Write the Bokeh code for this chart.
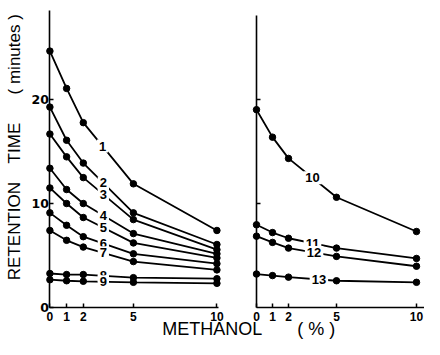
import numpy as np
from bokeh.plotting import figure
from bokeh.models import Range1d, LinearAxis, FixedTicker, Label
from bokeh.core.properties import value
from bokeh.embed import file_html
from bokeh.resources import INLINE

# ---- data (retention time in minutes vs methanol %) ----
methanol = [0, 1, 2, 5, 10]
x_tick_labels = ["0", "1", "2", "5", "10"]
y_ticks = [0, 10, 20]

rt_1 = [24.7, 21.1, 17.8, 11.9, 7.4]
rt_2 = [19.3, 16.1, 13.9, 9.1, 6.05]
rt_3 = [16.7, 14.5, 12.5, 8.45, 5.55]
rt_4 = [13.4, 11.35, 10.0, 7.1, 5.15]
rt_5 = [11.5, 10.0, 8.65, 6.2, 4.75]
rt_6 = [9.1, 7.9, 6.8, 5.15, 4.2]
rt_7 = [7.4, 6.45, 5.8, 4.4, 3.6]
rt_8 = [3.25, 3.15, 3.15, 2.85, 2.75]
rt_9 = [2.65, 2.55, 2.5, 2.4, 2.3]

rt_10 = [19.05, 16.4, 14.35, 10.6, 7.3]
rt_11 = [7.95, 7.2, 6.65, 5.7, 4.7]
rt_12 = [6.85, 6.25, 5.7, 4.9, 3.95]
rt_13 = [3.2, 3.05, 2.9, 2.55, 2.4]

left_names = ["1", "2", "3", "4", "5", "6", "7", "8", "9"]
left_series = [rt_1, rt_2, rt_3, rt_4, rt_5, rt_6, rt_7, rt_8, rt_9]
right_names = ["10", "11", "12", "13"]
right_series = [rt_10, rt_11, rt_12, rt_13]

# where along the methanol axis each compound number sits on its curve
left_label_at = [3.15, 3.2, 3.2, 3.2, 3.2, 3.2, 3.2, 3.2, 3.2]
right_label_at = [3.5, 3.5, 3.6, 3.9]

FONT = "Liberation Sans"

p = figure(width=424, height=339, output_backend="svg", toolbar_location=None,
           x_range=Range1d(-2.958, 22.43), y_range=Range1d(-3.115, 29.58),
           x_axis_location=None, y_axis_location=None, min_border=0,
           outline_line_color=None)
p.extra_x_ranges = {"right": Range1d(-16.0, 10.5)}
for g in p.grid:
    g.visible = False


def style_axis(ax, show_labels=True, font=FONT, size="12px"):
    ax.axis_line_color = "black"
    ax.axis_line_width = 1.6
    ax.major_tick_line_color = "black"
    ax.major_tick_line_width = 1.5
    ax.major_tick_in = 4
    ax.major_tick_out = 0
    ax.minor_tick_line_color = None
    ax.major_label_text_font = font
    ax.major_label_text_font_style = "bold"
    ax.major_label_text_font_size = size
    ax.major_label_text_color = "black" if show_labels else None


xlab = {t: s for t, s in zip(methanol, x_tick_labels)}

ax_l = LinearAxis(fixed_location=0, bounds=(0, 10.1), ticker=FixedTicker(ticks=methanol),
                  major_label_overrides=xlab, major_label_standoff=5)
style_axis(ax_l)
p.add_layout(ax_l, "below")

ax_r = LinearAxis(x_range_name="right", fixed_location=0, bounds=(0, 10.5),
                  ticker=FixedTicker(ticks=methanol), major_label_overrides=xlab,
                  major_label_standoff=5)
style_axis(ax_r)
p.add_layout(ax_r, "below")

ay_l = LinearAxis(fixed_location=0, bounds=(0, 28.6), ticker=FixedTicker(ticks=y_ticks),
                  major_label_standoff=1)
style_axis(ay_l, font="DejaVu Sans", size="12.5px")
p.add_layout(ay_l, "left")

ay_r = LinearAxis(x_range_name="right", fixed_location=0, bounds=(0, 28.1),
                  ticker=FixedTicker(ticks=[10, 20]))
style_axis(ay_r, show_labels=False)
p.add_layout(ay_r, "left")

# curves
for ys in left_series:
    p.line(methanol, ys, line_color="black", line_width=1.8)
for ys in right_series:
    p.line(methanol, ys, line_color="black", line_width=1.8, x_range_name="right")

# compound numbers on the curves
lx = left_label_at
ly = [float(np.interp(a, methanol, ys)) for a, ys in zip(lx, left_series)]
p.text(x=lx, y=ly, text=left_names, text_font=value(FONT), text_font_style="bold",
       text_font_size="13px", text_align="center", text_baseline="middle",
       text_color="black", background_fill_color="white", padding=2)
rx = right_label_at
ry = [float(np.interp(a, methanol, ys)) for a, ys in zip(rx, right_series)]
p.text(x=rx, y=ry, text=right_names, text_font=value(FONT), text_font_style="bold",
       text_font_size="13px", text_align="center", text_baseline="middle",
       text_color="black", background_fill_color="white", padding=2,
       x_range_name="right")

# points
for ys in left_series:
    p.scatter(methanol, ys, size=6.5, fill_color="black", line_color="black")
for ys in right_series:
    p.scatter(methanol, ys, size=6.5, fill_color="black", line_color="black",
              x_range_name="right")

# axis titles
p.add_layout(Label(x=11.9, y=-3.1, text="METHANOL\u00a0\u00a0\u00a0\u00a0\u00a0\u00a0 ( % )",
                   text_font=FONT, text_font_size="18px", text_align="center",
                   text_baseline="bottom", text_color="black"))
p.add_layout(Label(x=-2.12, y=15.45, angle=np.pi / 2,
                   text="RETENTION\u00a0\u00a0\u00a0 TIME\u00a0\u00a0\u00a0\u00a0\u00a0 ( minutes )",
                   text_font=FONT, text_font_size="17px", text_align="center",
                   text_baseline="middle", text_color="black"))

open("out.html", "w").write(file_html(p, INLINE))
